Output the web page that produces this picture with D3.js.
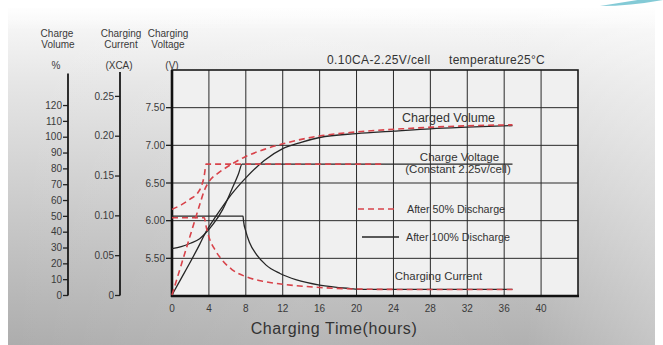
<!DOCTYPE html>
<html><head><meta charset="utf-8">
<script src="https://cdn.jsdelivr.net/npm/d3@7"></script>
<style>body{margin:0;background:#fff}svg{display:block;font-family:"Liberation Sans",Arial,sans-serif}</style>
</head><body><svg id="c" width="663" height="345"></svg>
<script>
// ---- data ----
const timeTicks = [0,4,8,12,16,20,24,28,32,36,40];
const voltTicks = [5.5,6.0,6.5,7.0,7.5];
const currTicks = [0,0.05,0.10,0.15,0.20,0.25];
const volTicks = [0,10,20,30,40,50,60,70,80,90,100,110,120];

// After 100% discharge (solid)
const vol100 = [[0,0],[1,10.5],[2,21],[3,32],[3.6,39],[4.5,47.5],[5.5,56],[6.5,64],[8,74],[10,85],[12,92.5],[14,96.5],[16,99.5],[20,102],[24,103.5],[28,105],[32,106],[36.9,107]];
const volt100 = [[0,5.63],[1,5.655],[2,5.7],[3,5.76],[3.6,5.83],[4.5,5.96],[5.5,6.15],[6.5,6.42],[7.2,6.62],[7.6,6.75],[36.9,6.75]];
const curr100 = [[0,0.099],[7.7,0.099],[7.75,0.093],[8.0,0.080],[8.4,0.066],[9.2,0.050],[10.2,0.0375],[11.7,0.027],[13.5,0.019],[16,0.0125],[19,0.0085],[21,0.007],[36.9,0.007]];
// After 50% discharge (dashed)
const vol50 = [[0,0],[1,19],[2,38],[3,57],[3.5,66],[4,71.5],[5,77],[6,81],[8,87.5],[10,92],[12,95.5],[16,100.5],[20,103],[25,105],[30,106.5],[36.9,107.5]];
const volt50 = [[0,6.15],[1,6.21],[2,6.29],[2.8,6.37],[3.2,6.46],[3.5,6.6],[3.7,6.75],[22.7,6.75]];
const curr50 = [[0,0.097],[3.5,0.097],[3.7,0.086],[4,0.073],[4.7,0.056],[5.5,0.043],[6.5,0.032],[8,0.023],[10,0.017],[12,0.0135],[16,0.0095],[20,0.0075],[24,0.007],[36.9,0.007]];

// ---- drawing ----
const svg = d3.select("#c");
const defs = svg.append("defs");
const lg = defs.append("linearGradient").attr("id","bg").attr("x1",0).attr("y1",0).attr("x2",0).attr("y2",1);
lg.append("stop").attr("offset","0%").attr("stop-color","#fafafa");
lg.append("stop").attr("offset","22%").attr("stop-color","#e6e6e6");
lg.append("stop").attr("offset","100%").attr("stop-color","#adadad");
svg.append("rect").attr("x",8).attr("y",8).attr("width",647).attr("height",337).attr("fill","url(#bg)");
const hg = defs.append("linearGradient").attr("id","hfade").attr("x1",0).attr("y1",0).attr("x2",1).attr("y2",0);
hg.append("stop").attr("offset","0%").attr("stop-color","#fff").attr("stop-opacity",0);
hg.append("stop").attr("offset","45%").attr("stop-color","#fff").attr("stop-opacity",0.12);
hg.append("stop").attr("offset","80%").attr("stop-color","#fff").attr("stop-opacity",0.05);
hg.append("stop").attr("offset","100%").attr("stop-color","#fff").attr("stop-opacity",0.3);
svg.append("rect").attr("x",8).attr("y",8).attr("width",647).attr("height",337).attr("fill","url(#hfade)");
const tg = defs.append("linearGradient").attr("id","topfade").attr("x1",0).attr("y1",0).attr("x2",0).attr("y2",1);
tg.append("stop").attr("offset","0%").attr("stop-color","#fff").attr("stop-opacity",1);
tg.append("stop").attr("offset","100%").attr("stop-color","#fff").attr("stop-opacity",0);
svg.append("rect").attr("x",0).attr("y",0).attr("width",663).attr("height",30).attr("fill","url(#topfade)");
// teal swoosh top-right
svg.append("path").attr("d","M600,6 Q625,2 650,-2 L663,-2 L663,0 Q630,6 600,6 Z").attr("fill","#4fb3c4").attr("opacity",0.7);

const x = d3.scaleLinear().domain([0,44]).range([172,578]);
const yV = d3.scaleLinear().domain([5,8]).range([296,70]);
const yI = d3.scaleLinear().domain([0,0.28]).range([295,72]);
const yP = d3.scaleLinear().domain([0,140]).range([295,73.4]);

// plot area
svg.append("rect").attr("x",x(0)).attr("y",yV(8)).attr("width",x(44)-x(0)).attr("height",yV(5)-yV(8)).attr("fill","#f0f0f0");
const g = svg.append("g");
g.selectAll("line.vg").data(timeTicks.slice(1)).join("line")
  .attr("x1",d=>x(d)).attr("x2",d=>x(d)).attr("y1",yV(8)).attr("y2",yV(5))
  .attr("stroke","#2a2a2a").attr("stroke-width",1);
g.selectAll("line.hg").data(voltTicks).join("line")
  .attr("x1",x(0)).attr("x2",x(44)).attr("y1",d=>yV(d)).attr("y2",d=>yV(d))
  .attr("stroke","#2a2a2a").attr("stroke-width",1);
// frame
svg.append("rect").attr("x",x(0)).attr("y",yV(8)).attr("width",x(44)-x(0)).attr("height",yV(5)-yV(8))
  .attr("fill","none").attr("stroke","#1a1a1a").attr("stroke-width",1.6);
svg.append("line").attr("x1",x(0)).attr("x2",x(0)).attr("y1",yV(8)).attr("y2",yV(5)+1).attr("stroke","#111").attr("stroke-width",2.6);
svg.append("line").attr("x1",x(0)-1).attr("x2",x(44)+1).attr("y1",yV(5)).attr("y2",yV(5)).attr("stroke","#111").attr("stroke-width",2.6);

const tickFont = "10px";
const txtCol = "#3a3a3a";
// voltage axis ticks
const vAx = g.append("g");
vAx.selectAll("line").data(voltTicks).join("line")
  .attr("x1",x(0)-6).attr("x2",x(0)).attr("y1",d=>yV(d)).attr("y2",d=>yV(d)).attr("stroke","#222").attr("stroke-width",1.3);
vAx.selectAll("text").data(voltTicks).join("text")
  .attr("x",x(0)-7).attr("y",d=>yV(d)+3.5).attr("text-anchor","end").attr("font-size",tickFont).attr("fill",txtCol)
  .text(d=>d3.format(".2f")(d));

// current axis
const axI = d3.axisLeft(yI).tickValues(currTicks).tickSize(5).tickFormat(d=>d===0?"0":d3.format(".2f")(d));
const gI = svg.append("g").attr("transform","translate(120,0)").call(axI);
// percent axis
const axP = d3.axisLeft(yP).tickValues(volTicks).tickSize(5).tickFormat(d3.format("d"));
const gP = svg.append("g").attr("transform","translate(68,0)").call(axP);
[gI,gP].forEach(a=>{
  a.select(".domain").attr("d",null);
  a.selectAll(".tick line").attr("stroke","#222").attr("stroke-width",1.3);
  a.selectAll(".tick text").attr("font-size",tickFont).attr("fill",txtCol).attr("font-family","Liberation Sans, Arial, sans-serif").attr("x",-6);
});
gI.append("line").attr("x1",0).attr("x2",0).attr("y1",yI(0.28)).attr("y2",yI(0)+0.5).attr("stroke","#1a1a1a").attr("stroke-width",1.8);
gP.append("line").attr("x1",0).attr("x2",0).attr("y1",yP(140)).attr("y2",yP(0)+0.5).attr("stroke","#1a1a1a").attr("stroke-width",1.8);

// x tick labels
svg.append("g").selectAll("text").data(timeTicks).join("text")
  .attr("x",d=>x(d)).attr("y",312).attr("text-anchor","middle").attr("font-size",tickFont).attr("fill",txtCol).text(d=>d);
svg.append("text").attr("x",334).attr("y",334).attr("text-anchor","middle").attr("font-size","16px").attr("letter-spacing","0.6px").attr("fill","#333").text("Charging Time(hours)");

// headers
const hdr = [["Charge",57,37],["Volume",58,48],["%",56,69],["Charging",121,37],["Current",121,48],["(XCA)",119,69],["Charging",168,37],["Voltage",168,48],["(V)",172,69]];
svg.append("g").selectAll("text").data(hdr).join("text")
  .attr("x",d=>d[1]).attr("y",d=>d[2]).attr("text-anchor","middle").attr("font-size","10px").attr("fill",txtCol).text(d=>d[0]);
svg.append("text").attr("x",327).attr("y",64).attr("font-size","12px").attr("letter-spacing","0.4px").attr("fill","#333").text("0.10CA-2.25V/cell");
svg.append("text").attr("x",449).attr("y",64).attr("font-size","12px").attr("letter-spacing","0.3px").attr("fill","#333").text("temperature25°C");

// curves
const lineV = d3.line().x(d=>x(d[0])).y(d=>yV(d[1])).curve(d3.curveMonotoneX);
const lineI = d3.line().x(d=>x(d[0])).y(d=>yI(d[1])).curve(d3.curveMonotoneX);
const lineP = d3.line().x(d=>x(d[0])).y(d=>yP(d[1])).curve(d3.curveMonotoneX);
const red = "#d8434a", blk = "#262626";
const solid = (p)=>svg.append("path").attr("d",p).attr("fill","none").attr("stroke",blk).attr("stroke-width",1.3);
const dashed = (p)=>svg.append("path").attr("d",p).attr("fill","none").attr("stroke",red).attr("stroke-width",1.6).attr("stroke-dasharray","6,4");
solid(lineV(volt100)); solid(lineI(curr100)); solid(lineP(vol100));
dashed(lineV(volt50)); dashed(lineI(curr50)); dashed(lineP(vol50));

// annotations
const ann = [["Charged Volume",448.5,122,"12.5px"],["Charge Voltage",459.5,161,"11.5px"],["(Constant 2.25v/cell)",458,173,"11.5px"],["Charging Current",438.5,280,"11.4px"]];
svg.append("g").selectAll("text").data(ann).join("text")
  .attr("x",d=>d[1]).attr("y",d=>d[2]).attr("text-anchor","middle").attr("font-size",d=>d[3]).attr("fill","#333").text(d=>d[0]);
// legend
svg.append("line").attr("x1",358).attr("x2",398).attr("y1",209).attr("y2",209).attr("stroke",red).attr("stroke-width",1.6).attr("stroke-dasharray","6,4");
svg.append("text").attr("x",407).attr("y",213).attr("font-size","10.7px").attr("fill","#333").text("After 50% Discharge");
svg.append("line").attr("x1",362).attr("x2",399).attr("y1",237).attr("y2",237).attr("stroke",blk).attr("stroke-width",1.3);
svg.append("text").attr("x",406).attr("y",241).attr("font-size","10.7px").attr("fill","#333").text("After 100% Discharge");
</script></body></html>
